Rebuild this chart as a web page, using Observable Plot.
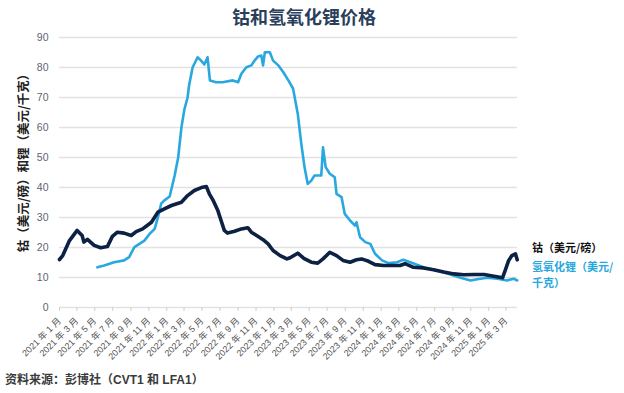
<!DOCTYPE html>
<html><head><meta charset="utf-8">
<script src="https://cdn.jsdelivr.net/npm/d3@7"></script>
<script src="https://cdn.jsdelivr.net/npm/@observablehq/plot@0.6"></script>
<style>
body{margin:0;background:#fff;font-family:"Liberation Sans","Noto Sans CJK SC",sans-serif;}
#wrap{position:relative;width:624px;height:393px;overflow:hidden;background:#fff;}
#chart{position:absolute;left:0;top:0;}
#title{position:absolute;top:3px;left:0;width:608px;text-align:center;font-family:"Noto Sans CJK SC",sans-serif;font-size:18px;font-weight:700;color:#2b3f5c;}
#source{position:absolute;left:5px;top:370px;font-family:"Liberation Sans","Noto Sans CJK SC",sans-serif;font-size:12px;font-weight:600;color:#3a3a3a;}
#ylab{position:absolute;left:22px;top:160px;transform:translate(-50%,-50%) rotate(-90deg);white-space:nowrap;font-family:"Noto Sans CJK SC",sans-serif;font-size:12.5px;font-weight:600;color:#222;}
.leg{position:absolute;left:532px;font-family:"Noto Sans CJK SC",sans-serif;font-size:11px;font-weight:700;line-height:12px;height:12px;white-space:nowrap;}
</style></head>
<body><div id="wrap"><div id="chart"></div>
<div id="title">钴和氢氧化锂价格</div>
<div id="ylab">钴（美元/磅）和锂（美元/千克）</div>
<div class="leg" style="top:241px;color:#111;">钴（美元/磅）</div>
<div class="leg" style="top:260px;color:#29a8e0;">氢氧化锂（美元/</div>
<div class="leg" style="top:276px;color:#29a8e0;">千克）</div>
<div id="source">资料来源：彭博社（CVT1 和 LFA1）</div>
</div>
<script>
const cobaltDates = ["2021-01-01","2021-01-12","2021-02-04","2021-03-02","2021-03-19","2021-03-25","2021-04-06","2021-04-29","2021-05-21","2021-06-13","2021-06-30","2021-07-17","2021-08-09","2021-09-02","2021-09-19","2021-10-11","2021-11-10","2021-12-02","2021-12-24","2022-01-17","2022-02-20","2022-03-13","2022-04-05","2022-05-03","2022-05-16","2022-05-26","2022-06-07","2022-06-24","2022-07-05","2022-07-16","2022-07-27","2022-08-20","2022-09-12","2022-10-04","2022-10-16","2022-11-03","2022-11-25","2022-12-12","2022-12-29","2023-01-22","2023-02-14","2023-02-25","2023-03-23","2023-04-10","2023-04-16","2023-05-08","2023-05-30","2023-06-17","2023-07-10","2023-08-02","2023-08-24","2023-09-17","2023-10-09","2023-10-26","2023-11-19","2023-12-11","2024-01-09","2024-02-01","2024-03-05","2024-03-22","2024-04-20","2024-05-24","2024-06-27","2024-08-01","2024-09-05","2024-10-08","2024-11-12","2024-12-16","2025-01-19","2025-02-17","2025-02-28","2025-03-10","2025-03-21","2025-04-02","2025-04-08"];
const cobaltValues = [16.0,17.3,22.3,25.7,24.0,21.8,22.7,20.7,19.9,20.3,23.7,25.1,24.8,24.0,25.3,26.2,28.4,31.8,32.9,34.0,35.1,37.3,39.0,40.1,40.3,37.9,35.9,32.3,29.0,25.7,24.8,25.4,26.2,26.6,25.1,24.0,22.6,21.2,19.0,17.3,16.2,16.6,18.1,16.6,16.2,15.1,14.8,16.2,18.4,17.3,15.7,15.1,15.9,16.2,15.4,14.3,14.0,14.0,14.0,14.6,13.4,13.2,12.6,11.8,11.2,10.9,11.0,11.0,10.4,9.9,12.9,15.7,17.3,17.9,15.9];
const lithiumDates = ["2021-05-10","2021-06-02","2021-07-06","2021-08-09","2021-08-26","2021-09-13","2021-09-30","2021-10-17","2021-11-04","2021-11-21","2021-12-02","2021-12-13","2021-12-24","2022-01-11","2022-01-28","2022-02-09","2022-02-20","2022-03-02","2022-03-13","2022-03-18","2022-03-30","2022-04-16","2022-04-28","2022-05-09","2022-05-20","2022-05-28","2022-06-18","2022-07-10","2022-08-14","2022-09-01","2022-09-12","2022-09-29","2022-10-16","2022-10-27","2022-11-08","2022-11-19","2022-11-25","2022-12-01","2022-12-18","2022-12-29","2023-01-16","2023-02-02","2023-02-19","2023-03-07","2023-03-23","2023-04-04","2023-04-15","2023-04-26","2023-05-08","2023-05-19","2023-06-11","2023-06-17","2023-06-26","2023-07-10","2023-07-27","2023-08-02","2023-08-19","2023-08-30","2023-09-17","2023-10-04","2023-10-09","2023-10-21","2023-11-08","2023-11-25","2023-12-11","2024-01-04","2024-01-26","2024-02-24","2024-03-16","2024-04-09","2024-05-24","2024-07-09","2024-08-24","2024-09-27","2024-10-31","2024-11-23","2024-12-27","2025-01-31","2025-03-04","2025-03-27","2025-04-08"];
const lithiumValues = [13.4,14.0,15.1,15.7,16.8,20.1,21.2,22.3,24.6,26.2,30.1,34.6,35.7,37.0,44.0,50.0,60.0,66.0,70.0,74.0,80.0,83.4,82.3,81.0,83.4,75.7,75.1,75.1,75.7,75.1,77.9,80.1,80.7,82.3,83.7,84.0,80.7,85.1,85.1,82.3,80.7,78.4,75.7,73.0,64.6,54.6,46.8,41.2,42.3,44.0,44.0,53.4,46.8,44.6,43.4,37.9,36.8,31.2,29.0,27.3,28.4,23.4,21.8,21.2,17.9,15.7,14.8,15.1,15.9,15.1,13.4,12.3,11.0,9.9,9.0,9.4,9.9,9.6,9.0,9.6,9.0];
const yTicks = [0,10,20,30,40,50,60,70,80,90];
const xTickYears = [2021,2021,2021,2021,2021,2021,2022,2022,2022,2022,2022,2022,2023,2023,2023,2023,2023,2023,2024,2024,2024,2024,2024,2024,2025,2025];
const xTickMonths = [1,3,5,7,9,11,1,3,5,7,9,11,1,3,5,7,9,11,1,3,5,7,9,11,1,3];
const xDomain = ["2021-01-01","2025-04-09"];

const parse = d3.utcParse("%Y-%m-%d");
const cobalt = cobaltDates.map((d,i)=>({date:parse(d), value:cobaltValues[i]}));
const lithium = lithiumDates.map((d,i)=>({date:parse(d), value:lithiumValues[i]}));
const xTicks = xTickYears.map((y,i)=>new Date(Date.UTC(y, xTickMonths[i]-1, 1)));
const fmt = d => `${d.getUTCFullYear()} 年 ${d.getUTCMonth()+1} 月`;

const chart = Plot.plot({
  width: 624, height: 393,
  marginLeft: 59, marginRight: 107, marginTop: 37, marginBottom: 86,
  style: {fontFamily: '"Liberation Sans","Noto Sans CJK SC",sans-serif', background: "#fff"},
  x: {type: "utc", domain: xDomain.map(parse)},
  y: {domain: [0, 90]},
  marks: [
    Plot.gridY(yTicks, {stroke: "#e2e2e2", strokeOpacity: 1, strokeWidth: 1.5}),
    Plot.axisY(yTicks, {tickSize: 0, tickPadding: 11, fontSize: 10.5, fill: "#5a6573", label: null}),
    Plot.axisX(xTicks, {tickFormat: fmt, tickRotate: -45, tickSize: 4, stroke: "#cfcfcf", fontSize: 9, fill: "#555", label: null}),
    Plot.line(lithium, {x: "date", y: "value", stroke: "#29a8e0", strokeWidth: 2.6}),
    Plot.line(cobalt, {x: "date", y: "value", stroke: "#0c2143", strokeWidth: 3.6})
  ]
});
document.getElementById("chart").appendChild(chart);
</script>
</body></html>
